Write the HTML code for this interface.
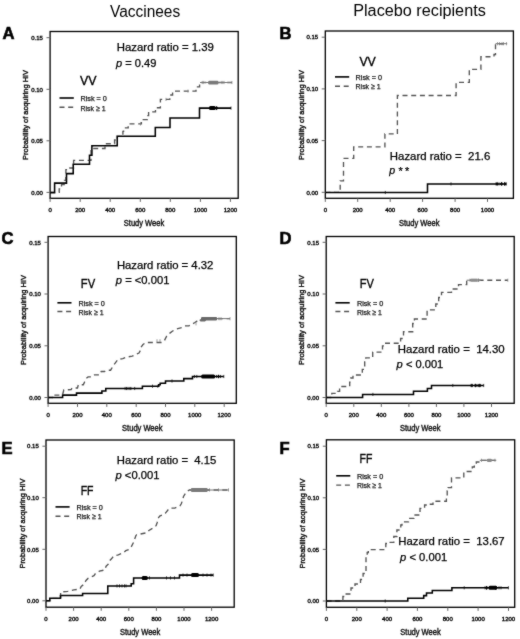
<!DOCTYPE html>
<html><head><meta charset="utf-8"><title>Kaplan-Meier HIV acquisition</title>
<style>
html,body{margin:0;padding:0;background:#fff;}
body{width:520px;height:639px;overflow:hidden;}
svg{display:block;font-family:"Liberation Sans", sans-serif;}
.s3{stroke:#111;stroke-width:0.4px;}
.s5{stroke:#000;stroke-width:0.6px;}
.s2{stroke:#111;stroke-width:0.25px;}
.s6{stroke:#000;stroke-width:0.35px;}
.s4{stroke:#000;stroke-width:0.25px;}
</style></head><body>
<svg width="520" height="639" viewBox="0 0 520 639" font-family='"Liberation Sans", sans-serif'>
<defs><filter id="bl" filterUnits="userSpaceOnUse" x="0" y="0" width="520" height="639"><feConvolveMatrix order="3" kernelMatrix="1 2 1 2 24 2 1 2 1" divisor="36" edgeMode="none" preserveAlpha="false"/></filter></defs>
<rect width="520" height="639" fill="#fff"/>
<g filter="url(#bl)">
<text x="110" y="16.8" font-size="16" textLength="70.2" lengthAdjust="spacingAndGlyphs">Vaccinees</text>
<text x="353.2" y="16.4" font-size="16" textLength="132.6" lengthAdjust="spacingAndGlyphs">Placebo recipients</text>
<path d="M50.1,192.4 L59.2,192.4 L59.2,188.8 L61.5,188.8 L61.5,184.6 L64.4,184.6 L64.4,180.3 L65.9,180.3 L65.9,169.6 L67.6,169.6 L67.6,168.0 L73.6,168.0 L73.6,160.3 L91.0,160.3 L91.0,148.5 L105.0,148.5 L105.0,143.7 L114.6,143.7 L114.6,140.0 L117.4,140.0 L117.4,136.3 L122.9,136.3 L122.9,131.3 L123.6,131.3 L123.6,127.9 L128.2,127.9 L128.2,123.9 L141.4,123.9 L141.4,119.6 L147.3,119.6 L147.3,115.6 L148.6,115.6 L148.6,111.8 L155.5,111.8 L155.5,107.7 L160.4,107.7 L160.4,99.4 L169.8,99.4 L169.8,95.0 L172.6,95.0 L172.6,91.1 L196.0,91.1 L196.0,86.8 L199.6,86.8 L199.6,82.5 L231.9,82.5" fill="none" stroke="#555" stroke-width="1.35" stroke-dasharray="5,3.7"/>
<line x1="200.0" y1="82.5" x2="231.9" y2="82.5" stroke="#777" stroke-width="1.0"/>
<rect x="208.2" y="80.7" width="10.3" height="3.8" rx="1.2" fill="#7a7a7a"/>
<line x1="203.0" y1="80.9" x2="203.0" y2="84.1" stroke="#777" stroke-width="0.7"/>
<line x1="222.0" y1="80.9" x2="222.0" y2="84.1" stroke="#777" stroke-width="0.7"/>
<line x1="224.0" y1="80.9" x2="224.0" y2="84.1" stroke="#777" stroke-width="0.7"/>
<line x1="231.9" y1="80.9" x2="231.9" y2="84.1" stroke="#777" stroke-width="0.7"/>
<line x1="188.0" y1="89.5" x2="188.0" y2="92.7" stroke="#777" stroke-width="0.7"/>
<line x1="166.0" y1="97.8" x2="166.0" y2="101.0" stroke="#777" stroke-width="0.7"/>
<line x1="140.5" y1="122.3" x2="140.5" y2="125.5" stroke="#777" stroke-width="0.7"/>
<path d="M50.1,192.6 L54.6,192.6 L54.6,183.1 L66.5,183.1 L66.5,173.6 L73.2,173.6 L73.2,164.2 L89.5,164.2 L89.5,155.2 L91.9,155.2 L91.9,145.7 L117.2,145.7 L117.2,136.2 L155.3,136.2 L155.3,127.5 L170.0,127.5 L170.0,117.9 L199.5,117.9 L199.5,108.1 L231.0,108.1" fill="none" stroke="#000" stroke-width="1.55"/>
<rect x="209.0" y="106.1" width="6.8" height="4.0" rx="1.5" fill="#000"/>
<path d="M215.2,108.1 L216.6,106.0 L218.0,108.1 L216.6,110.2 Z" fill="#000"/>
<line x1="216.8" y1="106.5" x2="216.8" y2="109.7" stroke="#000" stroke-width="0.7"/>
<line x1="231.0" y1="106.5" x2="231.0" y2="109.7" stroke="#000" stroke-width="0.7"/>
<rect x="50.1" y="31.5" width="188.10" height="166.80" fill="none" stroke="#000" stroke-width="1.3"/>
<line x1="46.5" y1="192.4" x2="50.1" y2="192.4" stroke="#555" stroke-width="0.9"/>
<text x="42.9" y="194.6" font-size="6" text-anchor="end" fill="#111" class="s3">0.00</text>
<line x1="46.5" y1="140.8" x2="50.1" y2="140.8" stroke="#555" stroke-width="0.9"/>
<text x="42.9" y="143.0" font-size="6" text-anchor="end" fill="#111" class="s3">0.05</text>
<line x1="46.5" y1="89.3" x2="50.1" y2="89.3" stroke="#555" stroke-width="0.9"/>
<text x="42.9" y="91.5" font-size="6" text-anchor="end" fill="#111" class="s3">0.10</text>
<line x1="46.5" y1="37.7" x2="50.1" y2="37.7" stroke="#555" stroke-width="0.9"/>
<text x="42.9" y="39.9" font-size="6" text-anchor="end" fill="#111" class="s3">0.15</text>
<line x1="50.1" y1="198.3" x2="50.1" y2="201.9" stroke="#555" stroke-width="0.9"/>
<text x="50.1" y="211.7" font-size="6" text-anchor="middle" fill="#111" class="s3">0</text>
<line x1="80.2" y1="198.3" x2="80.2" y2="201.9" stroke="#555" stroke-width="0.9"/>
<text x="80.2" y="211.7" font-size="6" text-anchor="middle" fill="#111" class="s3">200</text>
<line x1="110.2" y1="198.3" x2="110.2" y2="201.9" stroke="#555" stroke-width="0.9"/>
<text x="110.2" y="211.7" font-size="6" text-anchor="middle" fill="#111" class="s3">400</text>
<line x1="140.3" y1="198.3" x2="140.3" y2="201.9" stroke="#555" stroke-width="0.9"/>
<text x="140.3" y="211.7" font-size="6" text-anchor="middle" fill="#111" class="s3">600</text>
<line x1="170.3" y1="198.3" x2="170.3" y2="201.9" stroke="#555" stroke-width="0.9"/>
<text x="170.3" y="211.7" font-size="6" text-anchor="middle" fill="#111" class="s3">800</text>
<line x1="200.4" y1="198.3" x2="200.4" y2="201.9" stroke="#555" stroke-width="0.9"/>
<text x="200.4" y="211.7" font-size="6" text-anchor="middle" fill="#111" class="s3">1000</text>
<line x1="230.4" y1="198.3" x2="230.4" y2="201.9" stroke="#555" stroke-width="0.9"/>
<text x="230.4" y="211.7" font-size="6" text-anchor="middle" fill="#111" class="s3">1200</text>
<text transform="translate(27.9,114.9) rotate(-90)" x="0" y="0" font-size="7.6" text-anchor="middle" textLength="90" lengthAdjust="spacingAndGlyphs" fill="#111" class="s3">Probability of acquiring HIV</text>
<text x="123.8" y="226.2" font-size="8.5" textLength="40.4" lengthAdjust="spacingAndGlyphs" fill="#111" class="s3">Study Week</text>
<text x="2.6" y="39.2" font-size="16.6" font-weight="bold" class="s5">A</text>
<text x="80.0" y="84.6" font-size="12.6" textLength="16.5" lengthAdjust="spacingAndGlyphs" class="s6">VV</text>
<line x1="59.5" y1="98.0" x2="73.8" y2="98.0" stroke="#000" stroke-width="1.6"/>
<line x1="59.5" y1="107.2" x2="73.8" y2="107.2" stroke="#555" stroke-width="1.35" stroke-dasharray="5,3.7"/>
<text x="80.5" y="101.2" font-size="7.9" textLength="26.4" lengthAdjust="spacingAndGlyphs" fill="#111" class="s2">Risk = 0</text>
<text x="80.5" y="110.5" font-size="7.9" textLength="25.0" lengthAdjust="spacingAndGlyphs" fill="#111" class="s2">Risk ≥ 1</text>
<text x="116.8" y="50.9" font-size="10.6" textLength="97.1" lengthAdjust="spacingAndGlyphs" class="s4">Hazard ratio = 1.39</text>
<text x="116.0" y="66.8" font-size="10.6" textLength="40.4" lengthAdjust="spacingAndGlyphs" class="s4"><tspan font-style="italic">p</tspan> = 0.49</text>
<path d="M325.3,192.3 L340.2,192.3 L340.2,180.9 L343.5,180.9 L343.5,158.3 L353.7,158.3 L353.7,146.9 L384.9,146.9 L384.9,133.9 L397.4,133.9 L397.4,95.5 L456.1,95.5 L456.1,82.4 L469.3,82.4 L469.3,69.4 L480.9,69.4 L480.9,56.7 L494.0,56.7 L494.0,54.5 L495.5,54.5 L495.5,43.7 L507.2,43.7" fill="none" stroke="#555" stroke-width="1.35" stroke-dasharray="5,3.7"/>
<line x1="495.5" y1="43.7" x2="507.2" y2="43.7" stroke="#777" stroke-width="1.0"/>
<line x1="497.5" y1="42.1" x2="497.5" y2="45.3" stroke="#777" stroke-width="0.7"/>
<line x1="499.5" y1="42.1" x2="499.5" y2="45.3" stroke="#777" stroke-width="0.7"/>
<line x1="502.0" y1="42.1" x2="502.0" y2="45.3" stroke="#777" stroke-width="0.7"/>
<line x1="503.5" y1="42.1" x2="503.5" y2="45.3" stroke="#777" stroke-width="0.7"/>
<line x1="506.5" y1="42.1" x2="506.5" y2="45.3" stroke="#777" stroke-width="0.7"/>
<path d="M325.3,192.5 L427.5,192.5 L427.5,183.9 L506.3,183.9" fill="none" stroke="#000" stroke-width="1.55"/>
<path d="M495.7,183.9 L497.1,181.8 L498.5,183.9 L497.1,186.0 Z" fill="#000"/>
<path d="M500.0,183.9 L501.4,181.8 L502.8,183.9 L501.4,186.0 Z" fill="#000"/>
<path d="M503.5,183.9 L504.9,181.8 L506.3,183.9 L504.9,186.0 Z" fill="#000"/>
<line x1="385.3" y1="190.9" x2="385.3" y2="194.1" stroke="#000" stroke-width="0.7"/>
<line x1="451.0" y1="182.3" x2="451.0" y2="185.5" stroke="#000" stroke-width="0.7"/>
<line x1="496.0" y1="182.3" x2="496.0" y2="185.5" stroke="#000" stroke-width="0.7"/>
<line x1="499.0" y1="182.3" x2="499.0" y2="185.5" stroke="#000" stroke-width="0.7"/>
<line x1="502.0" y1="182.3" x2="502.0" y2="185.5" stroke="#000" stroke-width="0.7"/>
<line x1="504.5" y1="182.3" x2="504.5" y2="185.5" stroke="#000" stroke-width="0.7"/>
<line x1="506.3" y1="182.3" x2="506.3" y2="185.5" stroke="#000" stroke-width="0.7"/>
<rect x="325.3" y="31.0" width="188.10" height="167.30" fill="none" stroke="#000" stroke-width="1.3"/>
<line x1="321.7" y1="192.3" x2="325.3" y2="192.3" stroke="#555" stroke-width="0.9"/>
<text x="318.1" y="194.5" font-size="6" text-anchor="end" fill="#111" class="s3">0.00</text>
<line x1="321.7" y1="140.6" x2="325.3" y2="140.6" stroke="#555" stroke-width="0.9"/>
<text x="318.1" y="142.8" font-size="6" text-anchor="end" fill="#111" class="s3">0.05</text>
<line x1="321.7" y1="88.9" x2="325.3" y2="88.9" stroke="#555" stroke-width="0.9"/>
<text x="318.1" y="91.1" font-size="6" text-anchor="end" fill="#111" class="s3">0.10</text>
<line x1="321.7" y1="37.2" x2="325.3" y2="37.2" stroke="#555" stroke-width="0.9"/>
<text x="318.1" y="39.4" font-size="6" text-anchor="end" fill="#111" class="s3">0.15</text>
<line x1="325.3" y1="198.3" x2="325.3" y2="201.9" stroke="#555" stroke-width="0.9"/>
<text x="325.3" y="211.7" font-size="6" text-anchor="middle" fill="#111" class="s3">0</text>
<line x1="357.7" y1="198.3" x2="357.7" y2="201.9" stroke="#555" stroke-width="0.9"/>
<text x="357.7" y="211.7" font-size="6" text-anchor="middle" fill="#111" class="s3">200</text>
<line x1="390.2" y1="198.3" x2="390.2" y2="201.9" stroke="#555" stroke-width="0.9"/>
<text x="390.2" y="211.7" font-size="6" text-anchor="middle" fill="#111" class="s3">400</text>
<line x1="422.6" y1="198.3" x2="422.6" y2="201.9" stroke="#555" stroke-width="0.9"/>
<text x="422.6" y="211.7" font-size="6" text-anchor="middle" fill="#111" class="s3">600</text>
<line x1="455.1" y1="198.3" x2="455.1" y2="201.9" stroke="#555" stroke-width="0.9"/>
<text x="455.1" y="211.7" font-size="6" text-anchor="middle" fill="#111" class="s3">800</text>
<line x1="487.5" y1="198.3" x2="487.5" y2="201.9" stroke="#555" stroke-width="0.9"/>
<text x="487.5" y="211.7" font-size="6" text-anchor="middle" fill="#111" class="s3">1000</text>
<text transform="translate(304.1,114.9) rotate(-90)" x="0" y="0" font-size="7.6" text-anchor="middle" textLength="90" lengthAdjust="spacingAndGlyphs" fill="#111" class="s3">Probability of acquiring HIV</text>
<text x="399.0" y="225.9" font-size="8.5" textLength="40.4" lengthAdjust="spacingAndGlyphs" fill="#111" class="s3">Study Week</text>
<text x="279.6" y="38.6" font-size="16.6" font-weight="bold" class="s5">B</text>
<text x="359.4" y="66.0" font-size="12.6" textLength="16.4" lengthAdjust="spacingAndGlyphs" class="s6">VV</text>
<line x1="335.0" y1="76.9" x2="349.2" y2="76.9" stroke="#000" stroke-width="1.6"/>
<line x1="335.0" y1="86.2" x2="349.2" y2="86.2" stroke="#555" stroke-width="1.35" stroke-dasharray="5,3.7"/>
<text x="355.6" y="80.0" font-size="7.9" textLength="26.4" lengthAdjust="spacingAndGlyphs" fill="#111" class="s2">Risk = 0</text>
<text x="355.6" y="89.0" font-size="7.9" textLength="25.0" lengthAdjust="spacingAndGlyphs" fill="#111" class="s2">Risk ≥ 1</text>
<text x="389.8" y="159.8" font-size="10.6" textLength="100.5" lengthAdjust="spacingAndGlyphs" class="s4">Hazard ratio =  21.6</text>
<text x="389.2" y="174.4" font-size="10.6" class="s4"><tspan font-style="italic">p</tspan></text>
<text x="398.4" y="175.3" font-size="11" letter-spacing="2.4" class="s4">**</text>
<path d="M48.1,397.5 L53.8,397.5 L53.8,395.1 L62.5,395.1 L63.8,390.0 L71.2,389.5 L72.0,388.0 L77.5,388.0 L78.3,384.7 L83.3,384.7 L86.2,378.5 L88.1,376.9 L91.7,376.9 L94.4,374.9 L99.8,374.9 L101.2,371.5 L104.5,371.5 L107.2,370.2 L110.6,370.2 L113.4,365.4 L118.1,359.3 L122.8,358.6 L126.8,357.0 L132.2,356.2 L134.9,354.9 L139.0,353.0 L140.3,350.6 L141.0,347.2 L143.0,344.5 L145.7,342.5 L161.8,342.5 L164.5,340.5 L166.5,336.4 L169.9,333.1 L172.6,331.0 L176.6,329.0 L182.8,327.2 L184.8,325.9 L188.8,325.9 L191.5,324.5 L194.9,322.5 L196.9,321.2 L200.3,320.1 L203.0,318.6 L230.0,318.6" fill="none" stroke="#555" stroke-width="1.35" stroke-dasharray="5,3.7"/>
<line x1="203.0" y1="318.6" x2="230.0" y2="318.6" stroke="#777" stroke-width="1.0"/>
<rect x="201.0" y="316.9" width="16.1" height="3.6" rx="1.2" fill="#6a6a6a"/>
<rect x="199.5" y="319.2" width="6.5" height="2.2" rx="1.2" fill="#6a6a6a"/>
<line x1="219.0" y1="317.1" x2="219.0" y2="320.3" stroke="#777" stroke-width="0.7"/>
<line x1="221.0" y1="317.1" x2="221.0" y2="320.3" stroke="#777" stroke-width="0.7"/>
<line x1="230.0" y1="317.1" x2="230.0" y2="320.3" stroke="#777" stroke-width="0.7"/>
<line x1="196.0" y1="322.2" x2="196.0" y2="325.4" stroke="#777" stroke-width="0.7"/>
<line x1="157.0" y1="339.2" x2="157.0" y2="342.4" stroke="#777" stroke-width="0.7"/>
<line x1="160.0" y1="339.2" x2="160.0" y2="342.4" stroke="#777" stroke-width="0.7"/>
<path d="M48.1,397.5 L62.6,397.5 L62.6,395.1 L76.5,395.1 L76.5,393.1 L101.9,393.1 L101.9,390.9 L105.8,390.9 L105.8,388.5 L142.4,388.5 L142.4,386.2 L158.8,386.2 L158.8,384.7 L160.2,384.7 L160.2,383.3 L165.5,383.3 L165.5,381.0 L183.8,381.0 L183.8,378.6 L192.5,378.6 L192.5,376.5 L223.8,376.5" fill="none" stroke="#000" stroke-width="1.55"/>
<rect x="201.2" y="374.5" width="13.9" height="4.0" rx="1.5" fill="#000"/>
<path d="M217.1,376.5 L218.5,374.4 L219.9,376.5 L218.5,378.6 Z" fill="#000"/>
<line x1="125.1" y1="386.9" x2="125.1" y2="390.1" stroke="#000" stroke-width="0.7"/>
<line x1="126.5" y1="386.9" x2="126.5" y2="390.1" stroke="#000" stroke-width="0.7"/>
<line x1="128.0" y1="386.9" x2="128.0" y2="390.1" stroke="#000" stroke-width="0.7"/>
<line x1="129.9" y1="386.9" x2="129.9" y2="390.1" stroke="#000" stroke-width="0.7"/>
<line x1="130.9" y1="386.9" x2="130.9" y2="390.1" stroke="#000" stroke-width="0.7"/>
<line x1="134.7" y1="386.9" x2="134.7" y2="390.1" stroke="#000" stroke-width="0.7"/>
<line x1="152.5" y1="384.6" x2="152.5" y2="387.8" stroke="#000" stroke-width="0.7"/>
<line x1="157.8" y1="384.6" x2="157.8" y2="387.8" stroke="#000" stroke-width="0.7"/>
<line x1="172.0" y1="379.4" x2="172.0" y2="382.6" stroke="#000" stroke-width="0.7"/>
<line x1="194.4" y1="374.9" x2="194.4" y2="378.1" stroke="#000" stroke-width="0.7"/>
<line x1="196.8" y1="374.9" x2="196.8" y2="378.1" stroke="#000" stroke-width="0.7"/>
<line x1="216.5" y1="374.9" x2="216.5" y2="378.1" stroke="#000" stroke-width="0.7"/>
<line x1="218.5" y1="374.9" x2="218.5" y2="378.1" stroke="#000" stroke-width="0.7"/>
<line x1="220.5" y1="374.9" x2="220.5" y2="378.1" stroke="#000" stroke-width="0.7"/>
<line x1="223.8" y1="374.9" x2="223.8" y2="378.1" stroke="#000" stroke-width="0.7"/>
<rect x="48.1" y="236.5" width="188.20" height="166.80" fill="none" stroke="#000" stroke-width="1.3"/>
<line x1="44.5" y1="397.5" x2="48.1" y2="397.5" stroke="#555" stroke-width="0.9"/>
<text x="40.9" y="399.7" font-size="6" text-anchor="end" fill="#111" class="s3">0.00</text>
<line x1="44.5" y1="345.8" x2="48.1" y2="345.8" stroke="#555" stroke-width="0.9"/>
<text x="40.9" y="348.0" font-size="6" text-anchor="end" fill="#111" class="s3">0.05</text>
<line x1="44.5" y1="294.0" x2="48.1" y2="294.0" stroke="#555" stroke-width="0.9"/>
<text x="40.9" y="296.2" font-size="6" text-anchor="end" fill="#111" class="s3">0.10</text>
<line x1="44.5" y1="242.3" x2="48.1" y2="242.3" stroke="#555" stroke-width="0.9"/>
<text x="40.9" y="244.5" font-size="6" text-anchor="end" fill="#111" class="s3">0.15</text>
<line x1="48.1" y1="403.3" x2="48.1" y2="406.9" stroke="#555" stroke-width="0.9"/>
<text x="48.1" y="416.7" font-size="6" text-anchor="middle" fill="#111" class="s3">0</text>
<line x1="77.5" y1="403.3" x2="77.5" y2="406.9" stroke="#555" stroke-width="0.9"/>
<text x="77.5" y="416.7" font-size="6" text-anchor="middle" fill="#111" class="s3">200</text>
<line x1="106.8" y1="403.3" x2="106.8" y2="406.9" stroke="#555" stroke-width="0.9"/>
<text x="106.8" y="416.7" font-size="6" text-anchor="middle" fill="#111" class="s3">400</text>
<line x1="136.2" y1="403.3" x2="136.2" y2="406.9" stroke="#555" stroke-width="0.9"/>
<text x="136.2" y="416.7" font-size="6" text-anchor="middle" fill="#111" class="s3">600</text>
<line x1="165.5" y1="403.3" x2="165.5" y2="406.9" stroke="#555" stroke-width="0.9"/>
<text x="165.5" y="416.7" font-size="6" text-anchor="middle" fill="#111" class="s3">800</text>
<line x1="194.8" y1="403.3" x2="194.8" y2="406.9" stroke="#555" stroke-width="0.9"/>
<text x="194.8" y="416.7" font-size="6" text-anchor="middle" fill="#111" class="s3">1000</text>
<line x1="224.2" y1="403.3" x2="224.2" y2="406.9" stroke="#555" stroke-width="0.9"/>
<text x="224.2" y="416.7" font-size="6" text-anchor="middle" fill="#111" class="s3">1200</text>
<text transform="translate(26.0,320.0) rotate(-90)" x="0" y="0" font-size="7.6" text-anchor="middle" textLength="90" lengthAdjust="spacingAndGlyphs" fill="#111" class="s3">Probability of acquiring HIV</text>
<text x="122.1" y="431.0" font-size="8.5" textLength="40.4" lengthAdjust="spacingAndGlyphs" fill="#111" class="s3">Study Week</text>
<text x="1.4" y="243.9" font-size="16.6" font-weight="bold" class="s5">C</text>
<text x="80.8" y="288.0" font-size="12.6" textLength="14.3" lengthAdjust="spacingAndGlyphs" class="s6">FV</text>
<line x1="57.4" y1="302.8" x2="71.5" y2="302.8" stroke="#000" stroke-width="1.6"/>
<line x1="57.4" y1="311.5" x2="71.5" y2="311.5" stroke="#555" stroke-width="1.35" stroke-dasharray="5,3.7"/>
<text x="78.5" y="306.2" font-size="7.9" textLength="26.4" lengthAdjust="spacingAndGlyphs" fill="#111" class="s2">Risk = 0</text>
<text x="78.5" y="315.4" font-size="7.9" textLength="25.0" lengthAdjust="spacingAndGlyphs" fill="#111" class="s2">Risk ≥ 1</text>
<text x="116.9" y="269.1" font-size="10.6" textLength="96.5" lengthAdjust="spacingAndGlyphs" class="s4">Hazard ratio = 4.32</text>
<text x="115.8" y="284.4" font-size="10.6" textLength="53.6" lengthAdjust="spacingAndGlyphs" class="s4"><tspan font-style="italic">p</tspan> = <0.001</text>
<path d="M326.2,397.5 L331.8,397.5 L331.8,393.3 L337.5,393.3 L337.5,391.3 L339.6,391.3 L339.6,386.5 L349.7,386.5 L349.7,382.1 L350.8,382.1 L350.8,378.0 L353.0,378.0 L353.0,375.0 L362.3,375.0 L362.3,369.4 L364.7,369.4 L364.7,362.0 L365.8,362.0 L365.8,357.9 L372.7,357.9 L372.7,352.1 L382.5,352.1 L382.5,345.8 L384.8,345.8 L384.8,343.2 L400.6,343.2 L400.6,338.5 L403.5,338.5 L403.5,331.7 L412.7,331.7 L412.7,323.5 L414.4,323.5 L414.4,319.0 L427.1,319.0 L427.1,309.8 L435.8,309.8 L435.8,304.0 L438.7,304.0 L438.7,297.5 L441.5,297.5 L441.5,292.4 L451.5,292.4 L451.5,289.0 L458.5,289.0 L458.5,284.6 L466.7,284.6 L466.7,280.2 L507.8,280.2" fill="none" stroke="#555" stroke-width="1.35" stroke-dasharray="5,3.7"/>
<line x1="466.7" y1="280.2" x2="481.0" y2="280.2" stroke="#777" stroke-width="1.0"/>
<rect x="470.3" y="278.7" width="9.4" height="3.0" rx="1.2" fill="#9a9a9a"/>
<line x1="470.0" y1="278.6" x2="470.0" y2="281.8" stroke="#777" stroke-width="0.7"/>
<line x1="472.0" y1="278.6" x2="472.0" y2="281.8" stroke="#777" stroke-width="0.7"/>
<line x1="474.0" y1="278.6" x2="474.0" y2="281.8" stroke="#777" stroke-width="0.7"/>
<line x1="476.0" y1="278.6" x2="476.0" y2="281.8" stroke="#777" stroke-width="0.7"/>
<line x1="478.5" y1="278.6" x2="478.5" y2="281.8" stroke="#777" stroke-width="0.7"/>
<line x1="507.8" y1="278.6" x2="507.8" y2="281.8" stroke="#777" stroke-width="0.7"/>
<path d="M326.2,397.5 L362.6,397.5 L362.6,394.4 L413.5,394.4 L413.5,391.2 L427.4,391.2 L427.4,388.5 L431.5,388.5 L431.5,385.5 L483.7,385.5" fill="none" stroke="#000" stroke-width="1.55"/>
<path d="M470.6,385.5 L472.0,383.4 L473.4,385.5 L472.0,387.6 Z" fill="#000"/>
<path d="M474.4,385.5 L475.8,383.4 L477.2,385.5 L475.8,387.6 Z" fill="#000"/>
<path d="M477.8,385.5 L479.2,383.4 L480.6,385.5 L479.2,387.6 Z" fill="#000"/>
<line x1="372.9" y1="392.8" x2="372.9" y2="396.0" stroke="#000" stroke-width="0.7"/>
<line x1="452.8" y1="383.9" x2="452.8" y2="387.1" stroke="#000" stroke-width="0.7"/>
<line x1="471.0" y1="383.9" x2="471.0" y2="387.1" stroke="#000" stroke-width="0.7"/>
<line x1="475.0" y1="383.9" x2="475.0" y2="387.1" stroke="#000" stroke-width="0.7"/>
<line x1="478.0" y1="383.9" x2="478.0" y2="387.1" stroke="#000" stroke-width="0.7"/>
<line x1="480.5" y1="383.9" x2="480.5" y2="387.1" stroke="#000" stroke-width="0.7"/>
<line x1="483.7" y1="383.9" x2="483.7" y2="387.1" stroke="#000" stroke-width="0.7"/>
<rect x="326.2" y="236.5" width="188.00" height="166.80" fill="none" stroke="#000" stroke-width="1.3"/>
<line x1="322.6" y1="397.5" x2="326.2" y2="397.5" stroke="#555" stroke-width="0.9"/>
<text x="319.0" y="399.7" font-size="6" text-anchor="end" fill="#111" class="s3">0.00</text>
<line x1="322.6" y1="345.8" x2="326.2" y2="345.8" stroke="#555" stroke-width="0.9"/>
<text x="319.0" y="348.0" font-size="6" text-anchor="end" fill="#111" class="s3">0.05</text>
<line x1="322.6" y1="294.0" x2="326.2" y2="294.0" stroke="#555" stroke-width="0.9"/>
<text x="319.0" y="296.2" font-size="6" text-anchor="end" fill="#111" class="s3">0.10</text>
<line x1="322.6" y1="242.3" x2="326.2" y2="242.3" stroke="#555" stroke-width="0.9"/>
<text x="319.0" y="244.5" font-size="6" text-anchor="end" fill="#111" class="s3">0.15</text>
<line x1="326.2" y1="403.3" x2="326.2" y2="406.9" stroke="#555" stroke-width="0.9"/>
<text x="326.2" y="416.7" font-size="6" text-anchor="middle" fill="#111" class="s3">0</text>
<line x1="353.8" y1="403.3" x2="353.8" y2="406.9" stroke="#555" stroke-width="0.9"/>
<text x="353.8" y="416.7" font-size="6" text-anchor="middle" fill="#111" class="s3">200</text>
<line x1="381.3" y1="403.3" x2="381.3" y2="406.9" stroke="#555" stroke-width="0.9"/>
<text x="381.3" y="416.7" font-size="6" text-anchor="middle" fill="#111" class="s3">400</text>
<line x1="408.9" y1="403.3" x2="408.9" y2="406.9" stroke="#555" stroke-width="0.9"/>
<text x="408.9" y="416.7" font-size="6" text-anchor="middle" fill="#111" class="s3">600</text>
<line x1="436.4" y1="403.3" x2="436.4" y2="406.9" stroke="#555" stroke-width="0.9"/>
<text x="436.4" y="416.7" font-size="6" text-anchor="middle" fill="#111" class="s3">800</text>
<line x1="463.9" y1="403.3" x2="463.9" y2="406.9" stroke="#555" stroke-width="0.9"/>
<text x="463.9" y="416.7" font-size="6" text-anchor="middle" fill="#111" class="s3">1000</text>
<line x1="491.5" y1="403.3" x2="491.5" y2="406.9" stroke="#555" stroke-width="0.9"/>
<text x="491.5" y="416.7" font-size="6" text-anchor="middle" fill="#111" class="s3">1200</text>
<text transform="translate(304.1,320.0) rotate(-90)" x="0" y="0" font-size="7.6" text-anchor="middle" textLength="90" lengthAdjust="spacingAndGlyphs" fill="#111" class="s3">Probability of acquiring HIV</text>
<text x="400.0" y="431.0" font-size="8.5" textLength="40.4" lengthAdjust="spacingAndGlyphs" fill="#111" class="s3">Study Week</text>
<text x="279.6" y="244.0" font-size="16.6" font-weight="bold" class="s5">D</text>
<text x="359.7" y="287.7" font-size="12.6" textLength="14.1" lengthAdjust="spacingAndGlyphs" class="s6">FV</text>
<line x1="335.4" y1="302.8" x2="349.7" y2="302.8" stroke="#000" stroke-width="1.6"/>
<line x1="335.4" y1="311.5" x2="349.7" y2="311.5" stroke="#555" stroke-width="1.35" stroke-dasharray="5,3.7"/>
<text x="356.9" y="306.0" font-size="7.9" textLength="26.4" lengthAdjust="spacingAndGlyphs" fill="#111" class="s2">Risk = 0</text>
<text x="356.9" y="315.4" font-size="7.9" textLength="25.0" lengthAdjust="spacingAndGlyphs" fill="#111" class="s2">Risk ≥ 1</text>
<text x="397.8" y="352.8" font-size="10.6" textLength="106.9" lengthAdjust="spacingAndGlyphs" class="s4">Hazard ratio =  14.30</text>
<text x="396.6" y="367.8" font-size="10.6" textLength="46.7" lengthAdjust="spacingAndGlyphs" class="s4"><tspan font-style="italic">p</tspan> < 0.001</text>
<path d="M46.0,600.8 L49.8,600.8 L49.8,598.3 L60.6,598.3 L60.6,592.0 L62.4,591.8 L67.8,591.3 L69.8,590.9 L73.8,589.8 L79.9,589.1 L81.2,586.4 L83.9,584.4 L86.0,580.4 L88.0,578.4 L90.7,577.0 L94.0,575.7 L95.4,573.6 L99.4,571.2 L104.8,569.9 L106.1,566.2 L108.2,564.2 L108.8,561.5 L111.5,558.8 L113.5,556.2 L118.3,554.8 L123.6,552.5 L125.8,550.7 L129.4,549.2 L131.5,546.3 L133.7,542.0 L134.4,539.8 L135.9,535.5 L136.6,534.8 L140.2,534.1 L147.4,532.6 L148.9,530.5 L152.5,528.3 L156.1,525.7 L157.2,522.5 L158.2,518.2 L159.7,516.0 L163.3,514.6 L165.5,513.1 L168.3,509.5 L169.8,508.1 L174.8,508.1 L179.9,505.9 L181.3,503.8 L182.8,499.4 L183.5,496.5 L185.7,492.9 L187.1,491.5 L189.3,490.0 L228.5,490.0" fill="none" stroke="#555" stroke-width="1.35" stroke-dasharray="5,3.7"/>
<line x1="189.3" y1="490.0" x2="228.5" y2="490.0" stroke="#777" stroke-width="1.0"/>
<rect x="190.9" y="487.9" width="16.8" height="4.0" rx="1.2" fill="#7a7a7a"/>
<line x1="209.5" y1="488.3" x2="209.5" y2="491.5" stroke="#777" stroke-width="0.7"/>
<line x1="218.5" y1="488.3" x2="218.5" y2="491.5" stroke="#777" stroke-width="0.7"/>
<line x1="228.5" y1="488.3" x2="228.5" y2="491.5" stroke="#777" stroke-width="0.7"/>
<path d="M46.0,600.8 L49.8,600.8 L49.8,598.2 L60.5,598.2 L60.5,595.4 L82.6,595.4 L82.6,593.4 L107.8,593.4 L107.8,585.9 L131.2,585.9 L131.2,583.8 L133.6,583.8 L133.6,577.9 L179.5,577.9 L179.5,575.1 L213.2,575.1" fill="none" stroke="#000" stroke-width="1.55"/>
<rect x="191.0" y="573.1" width="8.0" height="4.0" rx="1.5" fill="#000"/>
<rect x="141.7" y="575.9" width="6.1" height="4.0" rx="1.5" fill="#000"/>
<path d="M142.4,577.9 L143.8,575.8 L145.2,577.9 L143.8,580.0 Z" fill="#000"/>
<line x1="117.0" y1="584.3" x2="117.0" y2="587.5" stroke="#000" stroke-width="0.7"/>
<line x1="119.5" y1="584.3" x2="119.5" y2="587.5" stroke="#000" stroke-width="0.7"/>
<line x1="122.0" y1="584.3" x2="122.0" y2="587.5" stroke="#000" stroke-width="0.7"/>
<line x1="124.5" y1="584.3" x2="124.5" y2="587.5" stroke="#000" stroke-width="0.7"/>
<line x1="126.0" y1="584.3" x2="126.0" y2="587.5" stroke="#000" stroke-width="0.7"/>
<line x1="149.5" y1="576.3" x2="149.5" y2="579.5" stroke="#000" stroke-width="0.7"/>
<line x1="166.5" y1="576.3" x2="166.5" y2="579.5" stroke="#000" stroke-width="0.7"/>
<line x1="170.5" y1="576.3" x2="170.5" y2="579.5" stroke="#000" stroke-width="0.7"/>
<line x1="174.5" y1="576.3" x2="174.5" y2="579.5" stroke="#000" stroke-width="0.7"/>
<line x1="183.0" y1="573.5" x2="183.0" y2="576.7" stroke="#000" stroke-width="0.7"/>
<line x1="187.0" y1="573.5" x2="187.0" y2="576.7" stroke="#000" stroke-width="0.7"/>
<line x1="203.0" y1="573.5" x2="203.0" y2="576.7" stroke="#000" stroke-width="0.7"/>
<line x1="207.0" y1="573.5" x2="207.0" y2="576.7" stroke="#000" stroke-width="0.7"/>
<line x1="211.0" y1="573.5" x2="211.0" y2="576.7" stroke="#000" stroke-width="0.7"/>
<line x1="213.2" y1="573.5" x2="213.2" y2="576.7" stroke="#000" stroke-width="0.7"/>
<rect x="46.0" y="440.0" width="188.20" height="167.20" fill="none" stroke="#000" stroke-width="1.3"/>
<line x1="42.4" y1="600.8" x2="46.0" y2="600.8" stroke="#555" stroke-width="0.9"/>
<text x="38.8" y="603.0" font-size="6" text-anchor="end" fill="#111" class="s3">0.00</text>
<line x1="42.4" y1="549.3" x2="46.0" y2="549.3" stroke="#555" stroke-width="0.9"/>
<text x="38.8" y="551.5" font-size="6" text-anchor="end" fill="#111" class="s3">0.05</text>
<line x1="42.4" y1="497.7" x2="46.0" y2="497.7" stroke="#555" stroke-width="0.9"/>
<text x="38.8" y="499.9" font-size="6" text-anchor="end" fill="#111" class="s3">0.10</text>
<line x1="42.4" y1="446.2" x2="46.0" y2="446.2" stroke="#555" stroke-width="0.9"/>
<text x="38.8" y="448.4" font-size="6" text-anchor="end" fill="#111" class="s3">0.15</text>
<line x1="46.0" y1="607.2" x2="46.0" y2="610.8" stroke="#555" stroke-width="0.9"/>
<text x="46.0" y="620.6" font-size="6" text-anchor="middle" fill="#111" class="s3">0</text>
<line x1="73.6" y1="607.2" x2="73.6" y2="610.8" stroke="#555" stroke-width="0.9"/>
<text x="73.6" y="620.6" font-size="6" text-anchor="middle" fill="#111" class="s3">200</text>
<line x1="101.2" y1="607.2" x2="101.2" y2="610.8" stroke="#555" stroke-width="0.9"/>
<text x="101.2" y="620.6" font-size="6" text-anchor="middle" fill="#111" class="s3">400</text>
<line x1="128.8" y1="607.2" x2="128.8" y2="610.8" stroke="#555" stroke-width="0.9"/>
<text x="128.8" y="620.6" font-size="6" text-anchor="middle" fill="#111" class="s3">600</text>
<line x1="156.4" y1="607.2" x2="156.4" y2="610.8" stroke="#555" stroke-width="0.9"/>
<text x="156.4" y="620.6" font-size="6" text-anchor="middle" fill="#111" class="s3">800</text>
<line x1="184.0" y1="607.2" x2="184.0" y2="610.8" stroke="#555" stroke-width="0.9"/>
<text x="184.0" y="620.6" font-size="6" text-anchor="middle" fill="#111" class="s3">1000</text>
<line x1="211.6" y1="607.2" x2="211.6" y2="610.8" stroke="#555" stroke-width="0.9"/>
<text x="211.6" y="620.6" font-size="6" text-anchor="middle" fill="#111" class="s3">1200</text>
<text transform="translate(24.6,523.6) rotate(-90)" x="0" y="0" font-size="7.6" text-anchor="middle" textLength="90" lengthAdjust="spacingAndGlyphs" fill="#111" class="s3">Probability of acquiring HIV</text>
<text x="119.9" y="634.6" font-size="8.5" textLength="40.4" lengthAdjust="spacingAndGlyphs" fill="#111" class="s3">Study Week</text>
<text x="1.5" y="453.7" font-size="16.6" font-weight="bold" class="s5">E</text>
<text x="80.7" y="495.1" font-size="12.6" textLength="12.8" lengthAdjust="spacingAndGlyphs" class="s6">FF</text>
<line x1="55.5" y1="506.9" x2="69.6" y2="506.9" stroke="#000" stroke-width="1.6"/>
<line x1="55.5" y1="516.2" x2="69.6" y2="516.2" stroke="#555" stroke-width="1.35" stroke-dasharray="5,3.7"/>
<text x="76.5" y="510.0" font-size="7.9" textLength="26.4" lengthAdjust="spacingAndGlyphs" fill="#111" class="s2">Risk = 0</text>
<text x="76.5" y="518.8" font-size="7.9" textLength="25.0" lengthAdjust="spacingAndGlyphs" fill="#111" class="s2">Risk ≥ 1</text>
<text x="116.8" y="463.6" font-size="10.6" textLength="99.5" lengthAdjust="spacingAndGlyphs" class="s4">Hazard ratio =  4.15</text>
<text x="115.5" y="479.2" font-size="10.6" textLength="44.0" lengthAdjust="spacingAndGlyphs" class="s4"><tspan font-style="italic">p</tspan> <0.001</text>
<path d="M326.4,601.0 L342.9,601.0 L342.9,596.5 L345.0,596.5 L345.0,594.0 L351.0,594.0 L351.0,588.0 L355.0,588.0 L355.0,584.0 L360.5,584.0 L360.5,579.5 L363.1,579.5 L363.1,573.5 L366.0,573.5 L366.0,557.0 L367.2,557.0 L367.2,552.5 L368.3,552.5 L368.3,549.6 L385.8,549.6 L385.8,543.5 L388.5,543.5 L388.5,542.3 L393.8,542.3 L393.8,536.5 L396.9,536.5 L396.9,530.0 L400.8,530.0 L400.8,525.0 L402.0,525.0 L402.0,521.9 L408.5,521.9 L408.5,518.4 L414.0,518.4 L414.0,515.0 L420.0,515.0 L420.0,508.3 L424.6,508.3 L424.6,505.0 L429.0,505.0 L429.0,504.2 L433.0,504.2 L433.0,501.2 L446.4,501.2 L446.4,496.0 L447.2,496.0 L447.2,491.0 L448.0,491.0 L448.0,487.6 L451.5,487.6 L451.5,477.8 L463.8,477.8 L463.8,471.5 L472.3,471.5 L472.3,467.0 L474.3,467.0 L474.3,464.5 L476.3,464.5 L476.3,462.0 L479.8,462.0 L479.8,460.3 L496.3,460.3" fill="none" stroke="#555" stroke-width="1.35" stroke-dasharray="5,3.7"/>
<line x1="479.8" y1="460.3" x2="496.3" y2="460.3" stroke="#777" stroke-width="1.0"/>
<rect x="486.9" y="458.7" width="5.0" height="3.2" rx="1.2" fill="#8a8a8a"/>
<line x1="481.5" y1="458.7" x2="481.5" y2="461.9" stroke="#777" stroke-width="0.7"/>
<line x1="495.0" y1="458.7" x2="495.0" y2="461.9" stroke="#777" stroke-width="0.7"/>
<path d="M326.4,601.0 L407.8,601.0 L407.8,598.2 L423.7,598.2 L423.7,595.6 L426.5,595.6 L426.5,592.9 L432.3,592.9 L432.3,590.4 L451.9,590.4 L451.9,587.8 L508.4,587.8" fill="none" stroke="#000" stroke-width="1.55"/>
<rect x="488.5" y="585.8" width="8.8" height="4.0" rx="1.5" fill="#000"/>
<path d="M485.1,587.8 L486.5,585.7 L487.9,587.8 L486.5,589.9 Z" fill="#000"/>
<path d="M494.1,587.8 L495.5,585.7 L496.9,587.8 L495.5,589.9 Z" fill="#000"/>
<line x1="385.2" y1="599.4" x2="385.2" y2="602.6" stroke="#000" stroke-width="0.7"/>
<line x1="464.2" y1="586.2" x2="464.2" y2="589.4" stroke="#000" stroke-width="0.7"/>
<line x1="485.0" y1="586.2" x2="485.0" y2="589.4" stroke="#000" stroke-width="0.7"/>
<line x1="487.0" y1="586.2" x2="487.0" y2="589.4" stroke="#000" stroke-width="0.7"/>
<line x1="499.0" y1="586.2" x2="499.0" y2="589.4" stroke="#000" stroke-width="0.7"/>
<line x1="501.0" y1="586.2" x2="501.0" y2="589.4" stroke="#000" stroke-width="0.7"/>
<line x1="508.4" y1="586.2" x2="508.4" y2="589.4" stroke="#000" stroke-width="0.7"/>
<rect x="326.4" y="439.8" width="188.30" height="167.50" fill="none" stroke="#000" stroke-width="1.3"/>
<line x1="322.8" y1="601.0" x2="326.4" y2="601.0" stroke="#555" stroke-width="0.9"/>
<text x="319.2" y="603.2" font-size="6" text-anchor="end" fill="#111" class="s3">0.00</text>
<line x1="322.8" y1="549.4" x2="326.4" y2="549.4" stroke="#555" stroke-width="0.9"/>
<text x="319.2" y="551.6" font-size="6" text-anchor="end" fill="#111" class="s3">0.05</text>
<line x1="322.8" y1="497.8" x2="326.4" y2="497.8" stroke="#555" stroke-width="0.9"/>
<text x="319.2" y="500.0" font-size="6" text-anchor="end" fill="#111" class="s3">0.10</text>
<line x1="322.8" y1="446.2" x2="326.4" y2="446.2" stroke="#555" stroke-width="0.9"/>
<text x="319.2" y="448.4" font-size="6" text-anchor="end" fill="#111" class="s3">0.15</text>
<line x1="326.4" y1="607.3" x2="326.4" y2="610.9" stroke="#555" stroke-width="0.9"/>
<text x="326.4" y="620.7" font-size="6" text-anchor="middle" fill="#111" class="s3">0</text>
<line x1="356.8" y1="607.3" x2="356.8" y2="610.9" stroke="#555" stroke-width="0.9"/>
<text x="356.8" y="620.7" font-size="6" text-anchor="middle" fill="#111" class="s3">200</text>
<line x1="387.1" y1="607.3" x2="387.1" y2="610.9" stroke="#555" stroke-width="0.9"/>
<text x="387.1" y="620.7" font-size="6" text-anchor="middle" fill="#111" class="s3">400</text>
<line x1="417.4" y1="607.3" x2="417.4" y2="610.9" stroke="#555" stroke-width="0.9"/>
<text x="417.4" y="620.7" font-size="6" text-anchor="middle" fill="#111" class="s3">600</text>
<line x1="447.8" y1="607.3" x2="447.8" y2="610.9" stroke="#555" stroke-width="0.9"/>
<text x="447.8" y="620.7" font-size="6" text-anchor="middle" fill="#111" class="s3">800</text>
<line x1="478.1" y1="607.3" x2="478.1" y2="610.9" stroke="#555" stroke-width="0.9"/>
<text x="478.1" y="620.7" font-size="6" text-anchor="middle" fill="#111" class="s3">1000</text>
<line x1="508.5" y1="607.3" x2="508.5" y2="610.9" stroke="#555" stroke-width="0.9"/>
<text x="508.5" y="620.7" font-size="6" text-anchor="middle" fill="#111" class="s3">1200</text>
<text transform="translate(305.0,523.6) rotate(-90)" x="0" y="0" font-size="7.6" text-anchor="middle" textLength="90" lengthAdjust="spacingAndGlyphs" fill="#111" class="s3">Probability of acquiring HIV</text>
<text x="400.3" y="634.6" font-size="8.5" textLength="40.4" lengthAdjust="spacingAndGlyphs" fill="#111" class="s3">Study Week</text>
<text x="279.4" y="453.6" font-size="16.6" font-weight="bold" class="s5">F</text>
<text x="359.5" y="463.1" font-size="12.6" textLength="12.8" lengthAdjust="spacingAndGlyphs" class="s6">FF</text>
<line x1="336.2" y1="475.8" x2="350.3" y2="475.8" stroke="#000" stroke-width="1.6"/>
<line x1="336.2" y1="485.1" x2="350.3" y2="485.1" stroke="#555" stroke-width="1.35" stroke-dasharray="5,3.7"/>
<text x="356.9" y="478.9" font-size="7.9" textLength="26.4" lengthAdjust="spacingAndGlyphs" fill="#111" class="s2">Risk = 0</text>
<text x="356.9" y="487.7" font-size="7.9" textLength="25.0" lengthAdjust="spacingAndGlyphs" fill="#111" class="s2">Risk ≥ 1</text>
<text x="398.3" y="545.2" font-size="10.6" textLength="106.4" lengthAdjust="spacingAndGlyphs" class="s4">Hazard ratio =  13.67</text>
<text x="400.1" y="560.6" font-size="10.6" textLength="47.1" lengthAdjust="spacingAndGlyphs" class="s4"><tspan font-style="italic">p</tspan> < 0.001</text>
</g>
</svg>
</body></html>
